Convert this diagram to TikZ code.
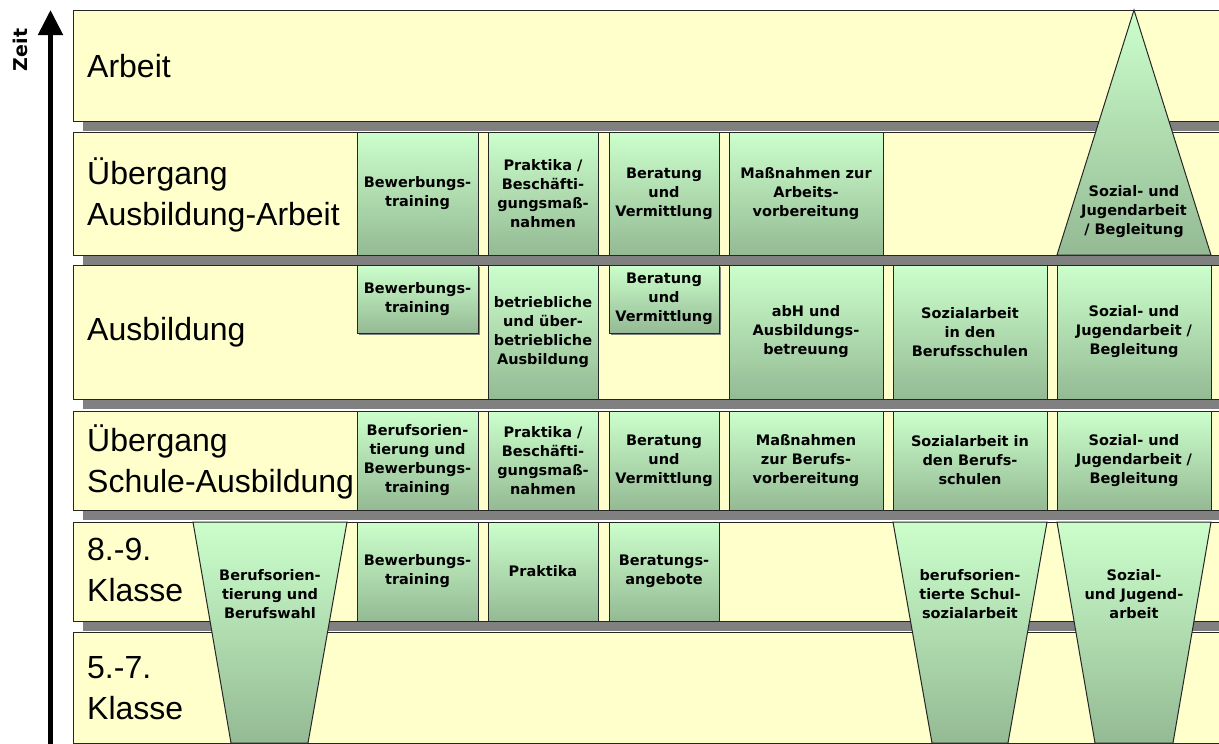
\documentclass[tikz,border=0pt]{standalone}
\usepackage{fontspec}
\setmainfont{Liberation Sans}
\newfontfamily\offerfont{DejaVu Sans}
\usetikzlibrary{arrows.meta,shadows}
\definecolor{bandfill}{RGB}{255,255,204}
\definecolor{greentop}{RGB}{204,255,204}
\definecolor{greenbot}{RGB}{148,186,148}
\definecolor{barshade}{RGB}{128,128,128}

\begin{document}
\begin{tikzpicture}[
  x=1pt, y=-1pt,
  band/.style={draw=black!85, line width=1pt, fill=bandfill},
  bandshade/.style={fill=barshade},
  phase/.style={anchor=west, inner sep=0pt, align=left,
    font=\fontsize{32}{41}\selectfont},
  offer/.style={draw=black!85, line width=1pt, top color=greentop,
    bottom color=greenbot, inner sep=1pt, align=center,
    font=\offerfont\bfseries\fontsize{14.5}{19}\selectfont},
  smalloffer/.style={offer, drop shadow={shadow xshift=2pt,
    shadow yshift=-2pt, fill=barshade, opacity=1}},
  colA/.style={minimum width=121pt},
  colB/.style={minimum width=110pt},
  colC/.style={minimum width=154pt},
  funnel/.style={draw=black!85, line width=1pt, top color=greentop,
    bottom color=greenbot},
  funneltext/.style={inner sep=0pt, align=center,
    font=\offerfont\bfseries\fontsize{14.5}{19}\selectfont},
  timeaxis/.style={-{Triangle[width=24pt,length=25pt]}, line width=5pt}
]
\useasboundingbox (0,0) rectangle (1219,744);
\begin{scope}
\clip (0,0) rectangle (1219,744);

% bands with their shadows
\foreach \top/\bot in {10/121, 132/255, 265/399, 411/510, 522/621, 632/743} {
  \fill[bandshade] (83,\top+10) rectangle (1240,\bot+10);
  \draw[band] (73,\top) rectangle (1240,\bot);
}

% phase labels
\node[phase] (arbeit) at (87,66) {Arbeit};
\node[phase] (uebaa) at (87,195) {Übergang\\Ausbildung-Arbeit};
\node[phase] (ausb) at (87,332) {Ausbildung};
\node[phase] (uebsa) at (87,462) {Übergang\\Schule-Ausbildung};
\node[phase] (kl89) at (87,570) {8.-9.\\Klasse};
\node[phase] (kl57) at (87,688) {5.-7.\\Klasse};

% Übergang Ausbildung-Arbeit
\node[offer, colA, minimum height=123pt] (aa1) at (417.5,193.5) {Bewerbungs-\\training};
\node[offer, colB, minimum height=123pt] (aa2) at (543,193.5) {Praktika /\\Beschäfti-\\gungsmaß-\\nahmen};
\node[offer, colB, minimum height=123pt] (aa3) at (664,193.5) {Beratung\\und\\Vermittlung};
\node[offer, colC, minimum height=123pt] (aa4) at (806,193.5) {Maßnahmen zur\\Arbeits-\\vorbereitung};

% Ausbildung
\node[smalloffer, colA, minimum height=68pt] (au1) at (417.5,299) {Bewerbungs-\\training};
\node[offer, colB, minimum height=134pt] (au2) at (543,332) {betriebliche\\und über-\\betriebliche\\Ausbildung};
\node[smalloffer, colB, minimum height=68pt] (au3) at (664,299) {Beratung\\und\\Vermittlung};
\node[offer, colC, minimum height=134pt] (au4) at (806,332) {abH und\\Ausbildungs-\\betreuung};
\node[offer, colC, minimum height=134pt] (au5) at (970,332) {Sozialarbeit\\in den\\Berufsschulen};
\node[offer, colC, minimum height=134pt] (au6) at (1134,332) {Sozial- und\\Jugendarbeit /\\Begleitung};

% Übergang Schule-Ausbildung
\node[offer, colA, minimum height=99pt] (sa1) at (417.5,460.5) {Berufsorien-\\tierung und\\Bewerbungs-\\training};
\node[offer, colB, minimum height=99pt] (sa2) at (543,460.5) {Praktika /\\Beschäfti-\\gungsmaß-\\nahmen};
\node[offer, colB, minimum height=99pt] (sa3) at (664,460.5) {Beratung\\und\\Vermittlung};
\node[offer, colC, minimum height=99pt] (sa4) at (806,460.5) {Maßnahmen\\zur Berufs-\\vorbereitung};
\node[offer, colC, minimum height=99pt] (sa5) at (970,460.5) {Sozialarbeit in\\den Berufs-\\schulen};
\node[offer, colC, minimum height=99pt] (sa6) at (1134,460.5) {Sozial- und\\Jugendarbeit /\\Begleitung};

% 8.-9. Klasse
\node[offer, colA, minimum height=99pt] (k1) at (417.5,571.5) {Bewerbungs-\\training};
\node[offer, colB, minimum height=99pt] (k2) at (543,571.5) {Praktika};
\node[offer, colB, minimum height=99pt] (k3) at (664,571.5) {Beratungs-\\angebote};

% funnels across several phases
\draw[funnel] (1134,10) -- (1211,255) -- (1057,255) -- cycle;
\node[funneltext] (sjtri) at (1134,212) {Sozial- und\\Jugendarbeit\\/ Begleitung};

\draw[funnel] (193,522) -- (347,522) -- (308,743) -- (231,743) -- cycle;
\node[funneltext] (bowahl) at (270,594) {Berufsorien-\\tierung und\\Berufswahl};

\draw[funnel] (893,522) -- (1047,522) -- (1008,743) -- (932,743) -- cycle;
\node[funneltext] (schulsoz) at (970,594) {berufsorien-\\tierte Schul-\\sozialarbeit};

\draw[funnel] (1057,522) -- (1211,522) -- (1173,743) -- (1095,743) -- cycle;
\node[funneltext] (sjklasse) at (1134,594) {Sozial-\\und Jugend-\\arbeit};

% time axis
\coordinate (axisfoot) at (50.5,750);
\coordinate (axishead) at (50.5,10);
\draw[timeaxis] (axisfoot) -- (axishead);
\node[rotate=90, inner sep=0pt, font=\offerfont\bfseries\fontsize{19}{19}\selectfont] (zeit) at (20,50) {Zeit};
\end{scope}
\end{tikzpicture}
\end{document}
